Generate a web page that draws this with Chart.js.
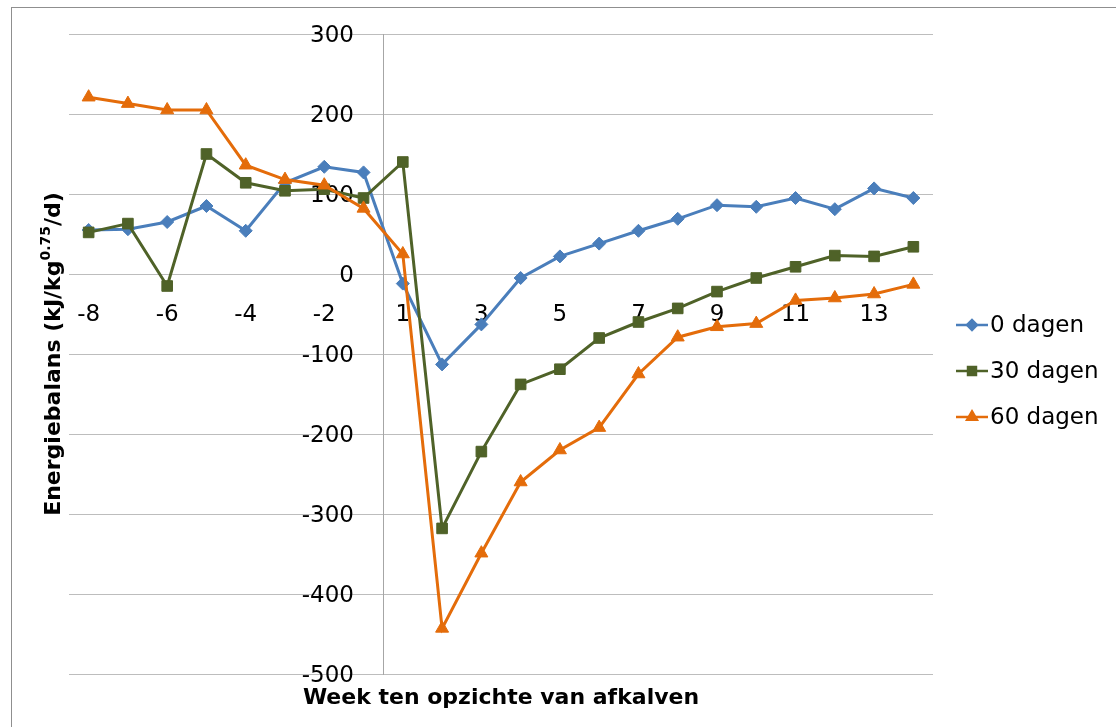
<!DOCTYPE html>
<html>
<head>
<meta charset="utf-8">
<script src="https://cdn.jsdelivr.net/npm/chart.js@4.4.1/dist/chart.umd.min.js"></script>
<style>
  html, body { margin: 0; padding: 0; background: #fff; }
  #wrap { width: 1116px; height: 727px; }
</style>
</head>
<body>
<div id="wrap"><canvas id="chart" width="1116" height="727"></canvas></div>
<script>
// weken t.o.v. afkalven (geen week 0)
const weeks = ['-8','-7','-6','-5','-4','-3','-2','-1','1','2','3','4','5','6','7','8','9','10','11','12','13','14'];
const seriesNames = ['0 dagen', '30 dagen', '60 dagen'];
const dagen0  = [55, 56, 65, 85, 54, 114, 134, 127, -12, -113, -63, -5, 22, 38, 54, 69, 86, 84, 95, 81, 107, 95];
const dagen30 = [52, 63, -15, 150, 114, 104, 106, 95, 140, -318, -222, -138, -119, -80, -60, -43, -22, -5, 9, 23, 22, 34];
const dagen60 = [221, 213, 205, 205, 136, 118, 111, 82, 25, -443, -349, -260, -220, -192, -125, -79, -66, -62, -33, -30, -25, -13];
const yTicks = [300, 200, 100, 0, -100, -200, -300, -400, -500];

const xTitle = 'Week ten opzichte van afkalven';
const yTitle = [['Energiebalans (kJ/kg', false], ['0.75', true], ['/d)', false]];

const colors = ['#4A7EBB', '#4F6228', '#E46C0A'];
const styles = ['rectRot', 'rect', 'triangle'];
const radii = [6.5, 7.5, 7.5];
const FONT = '"DejaVu Sans", sans-serif';
const GAP = '\u00a0\u00a0\u00a0\u00a0'; // ruimte tussen label en as

const mkSet = (i, data) => ({
    label: seriesNames[i],
    data: data,
    borderColor: colors[i],
    backgroundColor: colors[i],
    borderWidth: 3,
    tension: 0,
    pointStyle: styles[i],
    pointRadius: radii[i],
    pointBorderWidth: 1,
    pointBorderColor: colors[i],
    pointBackgroundColor: colors[i],
    order: 3 - i
});

// kader, titels en legenda
const extras = {
    id: 'extras',
    beforeDraw(chart) {
        const ctx = chart.ctx;
        ctx.save();
        ctx.fillStyle = '#fff';
        ctx.fillRect(0, 0, chart.width, chart.height);
        ctx.strokeStyle = '#8f8f8f';
        ctx.lineWidth = 1;
        ctx.strokeRect(11.5, 7.5, chart.width + 20, chart.height + 20);
        ctx.restore();
    },
    afterDraw(chart) {
        const ctx = chart.ctx;
        const a = chart.chartArea;
        ctx.save();
        ctx.fillStyle = '#000';
        // x-as titel
        ctx.font = 'bold 22px ' + FONT;
        ctx.textAlign = 'center';
        ctx.textBaseline = 'alphabetic';
        ctx.fillText(xTitle, (a.left + a.right) / 2, 704);
        // y-as titel met superscript
        ctx.textAlign = 'left';
        let total = 0;
        const parts = yTitle.map(([t, sup]) => {
            ctx.font = 'bold ' + (sup ? 14 : 22) + 'px ' + FONT;
            const w = ctx.measureText(t).width;
            total += w;
            return {t, sup, w};
        });
        ctx.translate(59.5, (a.top + a.bottom) / 2);
        ctx.rotate(-Math.PI / 2);
        let x = -total / 2;
        parts.forEach(p => {
            ctx.font = 'bold ' + (p.sup ? 14 : 22) + 'px ' + FONT;
            ctx.fillText(p.t, x, p.sup ? -10 : 0);
            x += p.w;
        });
        ctx.restore();

        // legenda
        ctx.save();
        chart.data.datasets.forEach((ds, i) => {
            const y = 325 + i * 46;
            ctx.strokeStyle = ds.borderColor;
            ctx.lineWidth = 2.5;
            ctx.beginPath();
            ctx.moveTo(956, y);
            ctx.lineTo(988, y);
            ctx.stroke();
            ctx.fillStyle = ds.borderColor;
            Chart.helpers.drawPoint(ctx, {pointStyle: ds.pointStyle, radius: ds.pointRadius * 0.75, rotation: 0, borderWidth: 1}, 972, y);
            ctx.fillStyle = '#000';
            ctx.font = '23px ' + FONT;
            ctx.textAlign = 'left';
            ctx.textBaseline = 'middle';
            ctx.fillText(ds.label, 990, y + 1);
        });
        ctx.restore();
    }
};

const ctx = document.getElementById('chart').getContext('2d');
const myChart = new Chart(ctx, {
    type: 'line',
    data: {
        labels: weeks,
        datasets: [mkSet(0, dagen0), mkSet(1, dagen30), mkSet(2, dagen60)]
    },
    options: {
        responsive: false,
        animation: false,
        layout: {
            padding: { left: 69, right: 183, top: 34, bottom: 53 }
        },
        plugins: {
            legend: { display: false },
            tooltip: { enabled: false }
        },
        scales: {
            x: {
                type: 'category',
                offset: true,
                position: { y: 0 },
                grid: { display: false },
                border: { display: false },
                ticks: {
                    autoSkip: false,
                    maxRotation: 0,
                    padding: 19,
                    color: '#000',
                    font: { family: FONT, size: 23 },
                    callback: (val, i) => i % 2 === 0 ? weeks[i] : ''
                }
            },
            y: {
                type: 'linear',
                min: -500,
                max: 300,
                position: { x: 7.5 },
                afterBuildTicks: (scale) => { scale.ticks = yTicks.map(v => ({value: v})); },
                grid: { color: '#bdbdbd', lineWidth: 1, drawTicks: false },
                border: { display: true, color: '#a6a6a6', width: 1 },
                ticks: {
                    color: '#000',
                    labelOffset: 2,
                    font: { family: FONT, size: 23 },
                    callback: (v) => v + GAP
                }
            }
        }
    },
    plugins: [extras]
});
</script>
</body>
</html>
